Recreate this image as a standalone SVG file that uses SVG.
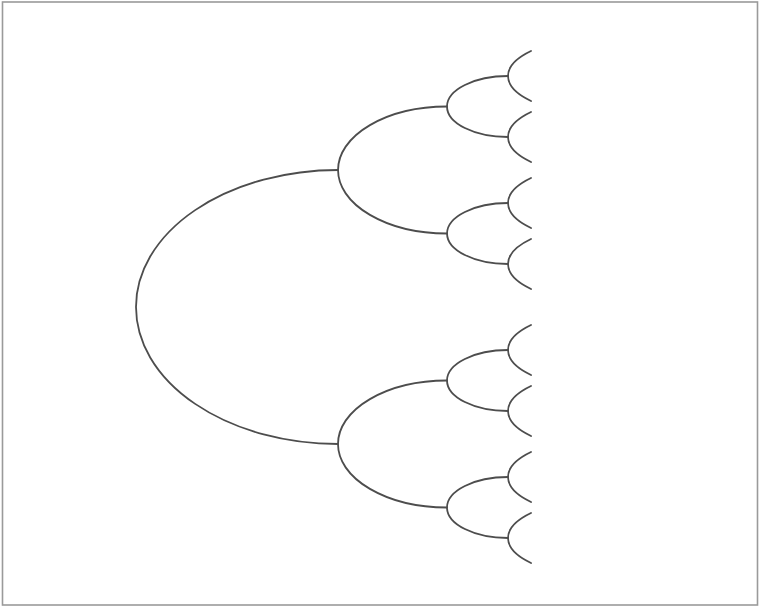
<svg xmlns="http://www.w3.org/2000/svg" width="761" height="609" viewBox="0 0 761 609">
  <style>
    .frame { fill: #ffffff; stroke: #9a9a9a; stroke-width: 1.6; }
    .arc { fill: none; stroke: #4d4d4d; stroke-width: 1.8; stroke-linecap: round; }
  </style>
  <rect class="frame" x="2.5" y="2" width="755" height="603"/>
  <g id="connectors">
    <g id="root">
      <path class="arc" d="M338,170 A202,137 0 0 0 338,444"/>
    </g>
    <g id="level2">
      <path class="arc" d="M447,106.5 A109,63.5 0 0 0 447,233.5"/>
      <path class="arc" d="M447,380.5 A109,63.5 0 0 0 447,507.5"/>
    </g>
    <g id="level3">
      <path class="arc" d="M508,76 A61,30.5 0 0 0 508,137"/>
      <path class="arc" d="M508,203 A61,30.5 0 0 0 508,264"/>
      <path class="arc" d="M508,350 A61,30.5 0 0 0 508,411"/>
      <path class="arc" d="M508,477 A61,30.5 0 0 0 508,538"/>
    </g>
    <g id="leaves">
      <path class="arc" d="M531,51 A104.8,40 0 0 0 531,101"/>
      <path class="arc" d="M531,112 A104.8,40 0 0 0 531,162"/>
      <path class="arc" d="M531,178 A104.8,40 0 0 0 531,228"/>
      <path class="arc" d="M531,239 A104.8,40 0 0 0 531,289"/>
      <path class="arc" d="M531,325 A104.8,40 0 0 0 531,375"/>
      <path class="arc" d="M531,386 A104.8,40 0 0 0 531,436"/>
      <path class="arc" d="M531,452 A104.8,40 0 0 0 531,502"/>
      <path class="arc" d="M531,513 A104.8,40 0 0 0 531,563"/>
    </g>
  </g>
</svg>
